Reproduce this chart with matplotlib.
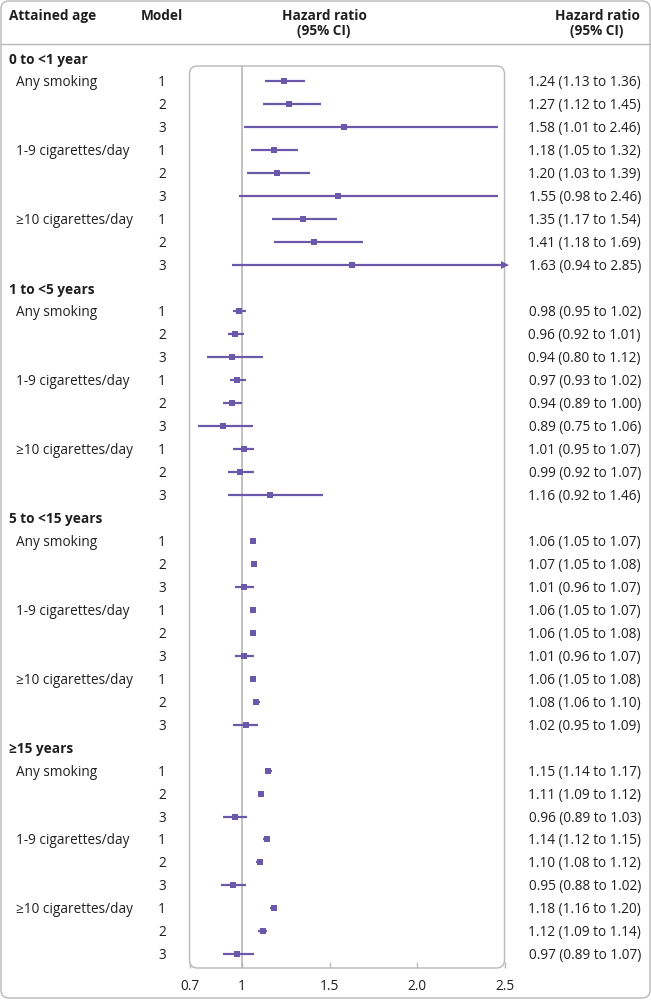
import matplotlib
matplotlib.use("Agg")
import matplotlib.pyplot as plt
from matplotlib.patches import FancyBboxPatch
from matplotlib.lines import Line2D

plt.rcParams['font.family'] = ['Open Sans', 'DejaVu Sans']

# ---------------- data ----------------
age_groups = ["0 to <1 year", "1 to <5 years", "5 to <15 years", "\u226515 years"]
exposures = ["Any smoking", "1-9 cigarettes/day", "\u226510 cigarettes/day"]
models = ["1", "2", "3"]

hr_0_1 = [1.24, 1.27, 1.58, 1.18, 1.20, 1.55, 1.35, 1.41, 1.63]
lo_0_1 = [1.13, 1.12, 1.01, 1.05, 1.03, 0.98, 1.17, 1.18, 0.94]
hi_0_1 = [1.36, 1.45, 2.46, 1.32, 1.39, 2.46, 1.54, 1.69, 2.85]

hr_1_5 = [0.98, 0.96, 0.94, 0.97, 0.94, 0.89, 1.01, 0.99, 1.16]
lo_1_5 = [0.95, 0.92, 0.80, 0.93, 0.89, 0.75, 0.95, 0.92, 0.92]
hi_1_5 = [1.02, 1.01, 1.12, 1.02, 1.00, 1.06, 1.07, 1.07, 1.46]

hr_5_15 = [1.06, 1.07, 1.01, 1.06, 1.06, 1.01, 1.06, 1.08, 1.02]
lo_5_15 = [1.05, 1.05, 0.96, 1.05, 1.05, 0.96, 1.05, 1.06, 0.95]
hi_5_15 = [1.07, 1.08, 1.07, 1.07, 1.08, 1.07, 1.08, 1.10, 1.09]

hr_15 = [1.15, 1.11, 0.96, 1.14, 1.10, 0.95, 1.18, 1.12, 0.97]
lo_15 = [1.14, 1.09, 0.89, 1.12, 1.08, 0.88, 1.16, 1.09, 0.89]
hi_15 = [1.17, 1.12, 1.03, 1.15, 1.12, 1.02, 1.20, 1.14, 1.07]

hr_all = [hr_0_1, hr_1_5, hr_5_15, hr_15]
lo_all = [lo_0_1, lo_1_5, lo_5_15, lo_15]
hi_all = [hi_0_1, hi_1_5, hi_5_15, hi_15]

x_ticks = [0.7, 1.0, 1.5, 2.0, 2.5]
x_tick_labels = ["0.7", "1", "1.5", "2.0", "2.5"]
x_min, x_max = 0.7, 2.5

# ---------------- layout ----------------
W, H = 651, 1000
PURPLE = "#6a58ab"
GREY = "#b8b8b8"
TXT = "#1f1f1f"
FS = 9.8

fig = plt.figure(figsize=(W / 100, H / 100), dpi=100)
bg = fig.add_axes([0, 0, 1, 1])
bg.set_xlim(0, W)
bg.set_ylim(H, 0)
bg.axis("off")

box_l, box_r, box_t, box_b = 189.5, 504.5, 66, 968
fx = fig.add_axes([box_l / W, (H - box_b) / H, (box_r - box_l) / W, (box_b - box_t) / H])
fx.set_xlim(x_min, x_max)
fx.set_ylim(box_b, box_t)
fx.patch.set_visible(False)
for s in fx.spines.values():
    s.set_visible(False)
fx.set_yticks([])
fx.set_xticks(x_ticks)
fx.set_xticklabels(x_tick_labels, fontsize=FS, color=TXT)
fx.tick_params(axis="x", direction="in", length=4, width=1, color=GREY, pad=8)

# outer frame
bg.add_patch(FancyBboxPatch((1, 1), W - 2, H - 3, boxstyle="round,pad=0,rounding_size=8",
                            fc="none", ec=GREY, lw=1.0))
# header separator
bg.add_line(Line2D([1, W - 1], [44, 44], color=GREY, lw=1.0))
# plot box
bg.add_patch(FancyBboxPatch((box_l, box_t), box_r - box_l, box_b - box_t,
                            boxstyle="round,pad=0,rounding_size=8", fc="none", ec=GREY, lw=1.0))
# reference line at 1
fx.axvline(1.0, color=GREY, lw=1.2, zorder=1)

# headers
bg.text(9, 16, "Attained age", fontsize=FS, fontweight="bold", color=TXT, va="center", ha="left")
bg.text(162, 16, "Model", fontsize=FS, fontweight="bold", color=TXT, va="center", ha="center")
bg.text(324, 23.5, "Hazard ratio\n(95% CI)", fontsize=FS, fontweight="bold", color=TXT,
        va="center", ha="center", linespacing=1.15)
bg.text(597, 23.5, "Hazard ratio\n(95% CI)", fontsize=FS, fontweight="bold", color=TXT,
        va="center", ha="center", linespacing=1.15)

y0, dy = 58.5, 22.97
toff = 1.5
for g, name in enumerate(age_groups):
    yg = y0 + (10 * g) * dy
    bg.text(9, yg + toff, name, fontsize=FS, fontweight="bold", color=TXT, va="center", ha="left")
    for i in range(9):
        y = y0 + (10 * g + 1 + i) * dy
        if i % 3 == 0:
            bg.text(16, y + toff, exposures[i // 3], fontsize=FS, color=TXT, va="center", ha="left")
        bg.text(162, y + toff, models[i % 3], fontsize=FS, color=TXT, va="center", ha="center")
        hr, lo, hi = hr_all[g][i], lo_all[g][i], hi_all[g][i]
        bg.text(641, y + toff, f"{hr:.2f} ({lo:.2f} to {hi:.2f})", fontsize=FS, color=TXT,
                va="center", ha="right")
        hi_draw = min(hi, x_max)
        fx.plot([max(lo, x_min), hi_draw], [y, y], color=PURPLE, lw=1.6,
                solid_capstyle="butt", zorder=3, clip_on=False)
        if hi > x_max:
            fx.plot([x_max], [y], marker=">", color=PURPLE, markersize=6, zorder=4,
                    clip_on=False, markeredgewidth=0)
        fx.plot([hr], [y], marker="s", color=PURPLE, markersize=4.2, zorder=5,
                markeredgewidth=0)

fig.savefig("out.png", dpi=100)
